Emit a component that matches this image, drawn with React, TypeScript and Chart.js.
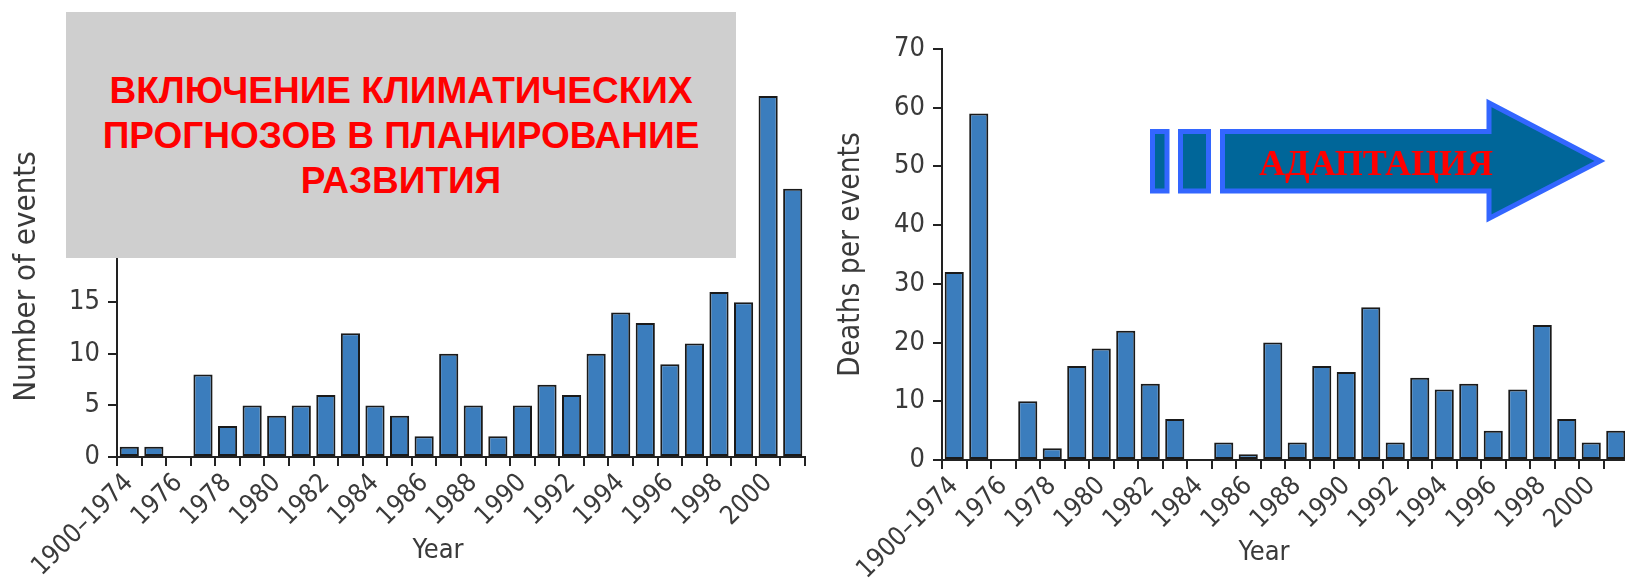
import React, { useEffect, useRef } from 'react';
import { Chart, registerables } from 'chart.js';

Chart.register(...registerables);

// ---------- data ----------
const categories = [
  '1900–1974', '1975', '1976', '1977', '1978', '1979', '1980', '1981', '1982', '1983',
  '1984', '1985', '1986', '1987', '1988', '1989', '1990', '1991', '1992', '1993',
  '1994', '1995', '1996', '1997', '1998', '1999', '2000', '2001',
];
const numberOfEvents = [1, 1, 0, 8, 3, 5, 4, 5, 6, 12, 5, 4, 2, 10, 5, 2, 5, 7, 6, 10, 14, 13, 9, 11, 16, 15, 35, 26];
const deathsPerEvents = [32, 59, 0, 10, 2, 16, 19, 22, 13, 7, 0, 3, 1, 20, 3, 16, 15, 26, 3, 14, 12, 13, 5, 12, 23, 7, 3, 5];
const eventsTicks = [0, 5, 10, 15, 20, 25, 30, 35];
const deathsTicks = [0, 10, 20, 30, 40, 50, 60, 70];
const leftTitle = 'Number of events';
const rightTitle = 'Deaths per events';
const xTitle = 'Year';
const boxLines = ['ВКЛЮЧЕНИЕ КЛИМАТИЧЕСКИХ', 'ПРОГНОЗОВ В ПЛАНИРОВАНИЕ', 'РАЗВИТИЯ'];
const arrowText = 'АДАПТАЦИЯ';

// ---------- style ----------
const FONT = "'DejaVu Sans Condensed', 'DejaVu Sans', sans-serif";
const TEXT = '#3a3a3a';
const AXIS = '#222222';
const BAR = '#3b7dbd';
const BAR_BORDER = '#1a1a1a';

const yearTitlePlugin = {
  id: 'yearTitle',
  afterDraw(chart: any, _args: any, opts: any) {
    const { ctx, chartArea } = chart;
    ctx.save();
    ctx.font = `27px ${FONT}`;
    ctx.fillStyle = TEXT;
    ctx.textAlign = 'center';
    ctx.textBaseline = 'middle';
    ctx.fillText(opts.text, (chartArea.left + chartArea.right) / 2 + opts.dx, chartArea.bottom + opts.dy);
    ctx.restore();
  },
};

type PanelProps = {
  left: number;
  width: number;
  values: number[];
  yTicks: number[];
  yTitle: string;
  yTitleSize: number;
  yAxisWidth: number;
  xAxisHeight: number;
  padTop: number;
  padRight: number;
  titlePad: number;
  yearDx: number;
  yearDy: number;
};

function BarPanel(p: PanelProps) {
  const ref = useRef<HTMLCanvasElement | null>(null);
  useEffect(() => {
    if (!ref.current) return;
    const yMax = p.yTicks[p.yTicks.length - 1];
    const chart = new Chart(ref.current, {
      type: 'bar',
      data: {
        labels: categories,
        datasets: [
          {
            data: p.values,
            backgroundColor: BAR,
            borderColor: BAR_BORDER,
            borderWidth: 2,
            borderSkipped: false,
            barPercentage: 0.78,
            categoryPercentage: 1,
          },
        ],
      },
      options: {
        responsive: false,
        animation: false,
        events: [],
        layout: { padding: { top: p.padTop, right: p.padRight, left: 0, bottom: 0 } },
        plugins: {
          legend: { display: false },
          tooltip: { enabled: false },
          yearTitle: { text: xTitle, dx: p.yearDx, dy: p.yearDy },
        } as any,
        scales: {
          x: {
            type: 'category',
            offset: true,
            grid: {
              display: true,
              offset: true,
              drawOnChartArea: false,
              drawTicks: true,
              tickLength: 9,
              color: AXIS,
              lineWidth: 2,
            },
            border: { display: true, color: AXIS, width: 2 },
            ticks: {
              autoSkip: false,
              minRotation: 45,
              maxRotation: 45,
              padding: 2,
              color: TEXT,
              font: { family: FONT, size: 26 },
              callback: (_v: any, i: number) => (i % 2 === 0 ? categories[i] : ''),
            },
            afterFit: (s: any) => {
              s.height = p.xAxisHeight;
            },
          },
          y: {
            min: 0,
            max: yMax,
            grid: {
              display: true,
              drawOnChartArea: false,
              drawTicks: true,
              tickLength: 9,
              color: AXIS,
              lineWidth: 2,
            },
            border: { display: true, color: AXIS, width: 2 },
            ticks: {
              padding: 8,
              color: TEXT,
              font: { family: FONT, size: 27 },
            },
            afterBuildTicks: (s: any) => {
              s.ticks = p.yTicks.map((v) => ({ value: v }));
            },
            afterFit: (s: any) => {
              s.width = p.yAxisWidth;
            },
            title: {
              display: true,
              text: p.yTitle,
              color: TEXT,
              font: { family: FONT, size: p.yTitleSize },
              padding: { top: p.titlePad, bottom: 0 },
            },
          },
        },
      } as any,
      plugins: [yearTitlePlugin as any],
    });
    return () => chart.destroy();
  }, []);
  return (
    <canvas
      ref={ref}
      width={p.width}
      height={586}
      style={{ position: 'absolute', left: p.left, top: 0, width: p.width, height: 586 }}
    />
  );
}

export default function App() {
  return (
    <div
      style={{
        position: 'fixed',
        left: 0,
        top: 0,
        width: 1625,
        height: 586,
        overflow: 'hidden',
        background: '#ffffff',
      }}
    >
      <BarPanel
        left={0}
        width={820}
        values={numberOfEvents}
        yTicks={eventsTicks}
        yTitle={leftTitle}
        yTitleSize={31}
        yAxisWidth={117}
        xAxisHeight={129}
        padTop={96}
        padRight={15}
        titlePad={8}
        yearDx={-23}
        yearDy={94}
      />
      <BarPanel
        left={820}
        width={820}
        values={deathsPerEvents}
        yTicks={deathsTicks}
        yTitle={rightTitle}
        yTitleSize={29.5}
        yAxisWidth={122}
        xAxisHeight={126}
        padTop={49}
        padRight={10}
        titlePad={14}
        yearDx={-21}
        yearDy={93}
      />
      <div
        style={{
          position: 'absolute',
          left: 66,
          top: 12,
          width: 670,
          height: 246,
          background: '#cfcfcf',
          display: 'flex',
          flexDirection: 'column',
          justifyContent: 'center',
          alignItems: 'center',
          color: '#ff0000',
          fontFamily: "'Liberation Sans', Arial, sans-serif",
          fontWeight: 'bold',
          fontSize: 37,
          lineHeight: '45px',
          textAlign: 'center',
          whiteSpace: 'nowrap',
        }}
      >
        {boxLines.map((l) => (
          <div key={l}>{l}</div>
        ))}
      </div>
      <svg
        width={1625}
        height={586}
        style={{ position: 'absolute', left: 0, top: 0, pointerEvents: 'none' }}
      >
        <rect x={1152.5} y={131.5} width={14.5} height={59.5} fill="#006699" stroke="#3366ff" strokeWidth={5} />
        <rect x={1180.5} y={131.5} width={28} height={59.5} fill="#006699" stroke="#3366ff" strokeWidth={5} />
        <polygon
          points="1222.5,131.5 1489,131.5 1489,103 1600,161 1489,218.5 1489,191 1222.5,191"
          fill="#006699"
          stroke="#3366ff"
          strokeWidth={5}
        />
        <text
          x={1376}
          y={175}
          textAnchor="middle"
          fill="#ff0000"
          fontFamily="'Liberation Serif', 'Times New Roman', serif"
          fontWeight="bold"
          fontSize={36}
        >
          {arrowText}
        </text>
      </svg>
    </div>
  );
}
